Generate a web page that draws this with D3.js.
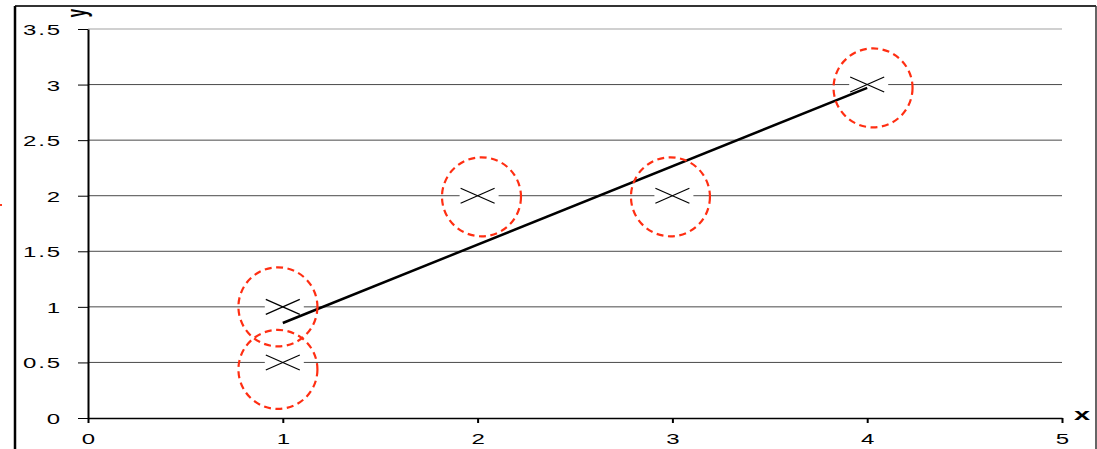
<!DOCTYPE html>
<html><head><meta charset="utf-8">
<script src="https://cdn.jsdelivr.net/npm/d3@7/dist/d3.min.js"></script>
<style>
body{margin:0;background:#fff;}
svg{display:block;font-family:"Liberation Sans",Arial,sans-serif;}
</style></head>
<body>
<svg id="c" width="1097" height="449"></svg>
<script>
// data
const xTicks = [0, 1, 2, 3, 4, 5];
const xTickLabels = ["0", "1", "2", "3", "4", "5"];
const yTicks = [0, 0.5, 1, 1.5, 2, 2.5, 3, 3.5];
const yTickLabels = ["0", "0.5", "1", "1.5", "2", "2.5", "3", "3.5"];
const pointX = [1, 1, 2, 3, 4];
const pointY = [1, 0.5, 2, 2, 3];
const circleX = [0.975, 0.975, 2.02, 2.99, 4.03];
const circleY = [1.0, 0.437, 1.99, 1.99, 2.97];
const regX = [1, 4];
const regY = [0.855, 2.97];
const xLabel = "x", yLabel = "y";

const svg = d3.select("#c");
const x = d3.scaleLinear().domain([0, 5]).range([88, 1062]);
const y = d3.scaleLinear().domain([0, 3.5]).range([418, 29]);
const SX = 1.6;
const FS = 15;

// frame
svg.append("line").attr("x1",15).attr("x2",1096).attr("y1",6).attr("y2",6).attr("stroke","#333").attr("stroke-width",2);
svg.append("line").attr("x1",15).attr("x2",15).attr("y1",6).attr("y2",449).attr("stroke","#000").attr("stroke-width",2.5);
svg.append("line").attr("x1",1096).attr("x2",1096).attr("y1",6).attr("y2",449).attr("stroke","#333").attr("stroke-width",1.5);
svg.append("rect").attr("x",0).attr("y",204).attr("width",2).attr("height",2).attr("fill","#ff3b1f");

// gridlines
svg.append("g").selectAll("line").data(yTicks.filter(d => d > 0)).join("line")
  .attr("x1", x(0)).attr("x2", x(5))
  .attr("y1", d => y(d)).attr("y2", d => y(d))
  .attr("stroke", d => d === d3.max(yTicks) ? "#c0c0c0" : "#4a4a4a")
  .attr("stroke-width", d => d === d3.max(yTicks) ? 1.5 : 1);

// y axis
const ya = svg.append("g").attr("transform", `translate(${x(0)},0)`)
  .call(d3.axisLeft(y).tickValues(yTicks).tickFormat((d,i) => yTickLabels[i]).tickSize(10).tickSizeOuter(0));
ya.attr("font-size", null);
ya.select(".domain").attr("stroke","#000").attr("stroke-width",2);
ya.selectAll(".tick line").attr("stroke","#000");
ya.selectAll(".tick text").attr("x",null).attr("dy",null)
  .attr("transform", `translate(-26,5.5) scale(${SX},1)`)
  .attr("text-anchor","end").style("font-size", FS + "px").attr("letter-spacing",1.2)
  .style("font-family",'"Liberation Sans",Arial,sans-serif').attr("fill","#000");

// x axis
const xa = svg.append("g").attr("transform", `translate(0,${y(0)})`)
  .call(d3.axisBottom(x).tickValues(xTicks).tickFormat((d,i) => xTickLabels[i]).tickSize(5).tickSizeOuter(0));
xa.attr("font-size", null);
xa.select(".domain").attr("stroke","#000").attr("stroke-width",1.5);
xa.selectAll(".tick line").attr("stroke","#000").attr("stroke-width",2);
xa.selectAll(".tick text").attr("y",null).attr("dy",null)
  .attr("transform", `translate(0,25.5) scale(${SX},1)`)
  .attr("text-anchor","middle").style("font-size", FS + "px")
  .style("font-family",'"Liberation Sans",Arial,sans-serif').attr("fill","#000");

// axis titles
svg.append("text").text(xLabel).attr("transform", `translate(1074,420) scale(1.7,1)`)
  .style("font-size","17px").attr("font-weight","bold");
svg.append("text").text(yLabel).attr("transform", `translate(77,13) scale(1.8,1) rotate(-90)`)
  .attr("text-anchor","middle").attr("dominant-baseline","central")
  .style("font-size","15px").attr("font-weight","bold");

// markers
const pts = pointX.map((d,i) => [d, pointY[i]]);
const mg = svg.append("g").selectAll("g").data(pts).join("g")
  .attr("transform", d => `translate(${x(d[0])},${y(d[1])})`);
mg.append("rect").attr("x",-18).attr("y",-4).attr("width",39).attr("height",8).attr("fill","#fff");
mg.append("line").attr("x1",-17).attr("y1",-7.5).attr("x2",17).attr("y2",7.5).attr("stroke","#000").attr("stroke-width",1.2);
mg.append("line").attr("x1",-17).attr("y1",7.5).attr("x2",17).attr("y2",-7.5).attr("stroke","#000").attr("stroke-width",1.2);

// regression line
svg.append("path").datum(regX.map((d,i) => [d, regY[i]]))
  .attr("d", d3.line().x(d => x(d[0])).y(d => y(d[1])))
  .attr("stroke","#000").attr("stroke-width",2.5).attr("fill","none");

// circles
svg.append("g").selectAll("circle").data(circleX.map((d,i) => [d, circleY[i]])).join("circle")
  .attr("cx", d => x(d[0])).attr("cy", d => y(d[1])).attr("r", 39.5)
  .attr("fill","none").attr("stroke","#ff2e12").attr("stroke-width",2.2)
  .attr("stroke-dasharray","7,4.5");
</script>
</body></html>
